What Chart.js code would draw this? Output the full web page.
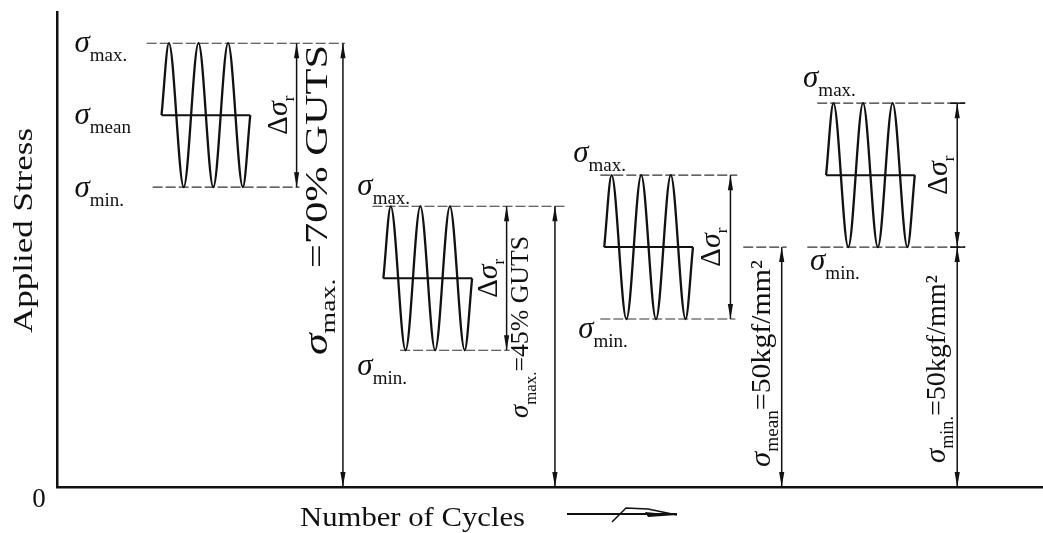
<!DOCTYPE html>
<html><head>
<meta charset="utf-8">
<script src="https://cdn.jsdelivr.net/npm/chart.js"></script>
<style>
  body { margin: 0; background: #fff; }
  #wrap { width: 1043px; height: 533px; }
</style>
</head>
<body>
<div id="wrap"><canvas id="chart" width="1043" height="533"></canvas></div>
<script>
// four loading blocks (stress in kgf/mm2, cycles in arbitrary units)
const blockStart = [10.6, 33.1, 55.5, 78.0];
const stressMax  = [92.5, 58.5, 65, 80];
const stressMean = [77.5, 43.5, 50, 65];
const stressMin  = [62.5, 28.5, 35, 50];

// one block = three cycles: mean start, peaks / troughs, mean end
const waveOffset = [0, 0.75, 2.25, 3.75, 5.25, 6.75, 8.25, 9];
const waveLevel  = ['mean', 'max', 'min', 'max', 'min', 'max', 'min', 'mean'];

// the quantity held constant in each block
const rangeSub   = ['max.', 'max.', 'mean', 'min.'];
const rangeText  = [' =70% GUTS', '=45% GUTS', '=50kgf/mm\u00b2', '=50kgf/mm\u00b2'];
const rangeFrom  = ['max', 'max', 'mean', 'min'];

// annotation layout (cycle units)
const deltaX  = [24.3, 45.6, 68.3, 91.3];
const rangeX  = [29.0, 50.5, 73.5, 91.3];
const extMax  = [[9.1, 29.2], [32.0, 51.5], [55.1, 69.0], [77.1, 92.1]];
const extMin  = [[9.7, 24.6], [34.8, 45.9], [55.1, 68.8], [76.1, 92.1]];
const extMean = [null, null, [69.6, 74.0], null];

const SERIF = "'Liberation Serif', 'Times New Roman', serif";
const INK = '#111';

function level(i, name) {
  return name === 'max' ? stressMax[i] : name === 'min' ? stressMin[i] : stressMean[i];
}

const datasets = [];
blockStart.forEach((x0, i) => {
  datasets.push({
    data: waveOffset.map((o, k) => ({ x: x0 + o, y: level(i, waveLevel[k]) })),
    borderColor: INK, borderWidth: 2.3, pointRadius: 0,
    cubicInterpolationMode: 'monotone'
  });
  datasets.push({
    data: [{ x: x0, y: stressMean[i] }, { x: x0 + 9, y: stressMean[i] }],
    borderColor: INK, borderWidth: 2, pointRadius: 0
  });
  const ext = [[extMax[i], stressMax[i]], [extMin[i], stressMin[i]], [extMean[i], stressMean[i]]];
  ext.forEach(([span, y]) => {
    if (!span) return;
    datasets.push({
      data: [{ x: span[0], y: y }, { x: span[1], y: y }],
      borderColor: '#333', borderWidth: 1.1, borderDash: [10, 3], pointRadius: 0
    });
  });
});

// text drawn piece by piece, optionally stretched to a length
function drawParts(ctx, parts, x, y, rot, len) {
  let w = 0;
  parts.forEach(p => { ctx.font = p.font; p.w = ctx.measureText(p.t).width; w += p.w; });
  const s = len ? len / w : 1;
  ctx.save();
  ctx.translate(x, y);
  if (rot) ctx.rotate(rot);
  ctx.scale(s, 1);
  let cx = 0;
  parts.forEach(p => { ctx.font = p.font; ctx.fillText(p.t, cx, p.dy || 0); cx += p.w; });
  ctx.restore();
}

function arrowHead(ctx, x, y, dir) {
  // dir = -1 tip points up, +1 tip points down
  ctx.beginPath();
  ctx.moveTo(x, y);
  ctx.lineTo(x - 2.6, y - dir * 15);
  ctx.lineTo(x + 2.6, y - dir * 15);
  ctx.closePath();
  ctx.fill();
}

function dimLine(ctx, x, yTop, yBot) {
  ctx.beginPath();
  ctx.moveTo(x, yTop);
  ctx.lineTo(x, yBot);
  ctx.stroke();
  arrowHead(ctx, x, yTop, -1);
  arrowHead(ctx, x, yBot, 1);
}

// sigma label offsets from block start (px) and level (px)
const sigmaPos = [
  { max: [-87, 9], mean: [-87, 9], min: [-87, 10] },
  { max: [-26, -11], min: [-26, 25] },
  { max: [-31, -13], min: [-26, 19] },
  { max: [-23, -16], min: [-16, 23] }
];
// baseline offset from dimension line, bottom above axis, length, font sizes
const rangePos = [[-16, 132, 310, 32, 21], [-27, 69, 182, 26, 17], [-12, 20, 207, 28, 18], [-12, 24, 188, 28, 18]];

const annotate = {
  id: 'annotate',
  afterDatasetsDraw(chart) {
    const { ctx, scales: { x, y }, chartArea } = chart;
    ctx.save();
    ctx.fillStyle = INK;
    ctx.strokeStyle = INK;
    ctx.lineWidth = 1.5;
    ctx.textBaseline = 'alphabetic';

    blockStart.forEach((x0, i) => {
      const px0 = x.getPixelForValue(x0);
      // horizontal sigma labels
      Object.entries(sigmaPos[i]).forEach(([name, off]) => {
        const sub = name === 'mean' ? 'mean' : name + '.';
        drawParts(ctx, [
          { t: '\u03c3', font: `italic 31px ${SERIF}` },
          { t: sub, font: `19px ${SERIF}`, dy: 9 }
        ], px0 + off[0], y.getPixelForValue(level(i, name)) + off[1]);
      });

      // delta sigma_r dimension
      const dx = x.getPixelForValue(deltaX[i]);
      const yMax = y.getPixelForValue(stressMax[i]);
      const yMin = y.getPixelForValue(stressMin[i]);
      dimLine(ctx, dx, yMax, yMin);
      const dParts = [
        { t: '\u0394', font: `29px ${SERIF}` },
        { t: '\u03c3', font: `italic 30px ${SERIF}` },
        { t: 'r', font: `17px ${SERIF}`, dy: 7 }
      ];
      let dw = 0;
      dParts.forEach(p => { ctx.font = p.font; dw += ctx.measureText(p.t).width; });
      drawParts(ctx, dParts, dx - 10, y.getPixelForValue(stressMean[i]) + dw / 2, -Math.PI / 2);

      // constant quantity dimension down to zero
      const rx = x.getPixelForValue(rangeX[i]);
      const yFrom = y.getPixelForValue(level(i, rangeFrom[i]));
      dimLine(ctx, rx, yFrom, y.getPixelForValue(0));
      const rp = rangePos[i];
      drawParts(ctx, [
        { t: '\u03c3', font: `italic ${rp[3] + 1}px ${SERIF}` },
        { t: rangeSub[i], font: `${rp[4]}px ${SERIF}`, dy: 8 },
        { t: rangeText[i], font: `${rp[3]}px ${SERIF}` }
      ], rx + rp[0], chartArea.bottom - rp[1], -Math.PI / 2, rp[2]);
    });

    // block 4 crossbars
    const bx = x.getPixelForValue(deltaX[3]);
    [stressMax[3], stressMin[3]].forEach(v => {
      const py = y.getPixelForValue(v);
      ctx.beginPath();
      ctx.moveTo(bx - 7, py);
      ctx.lineTo(bx + 8, py);
      ctx.stroke();
    });

    // axis texts
    ctx.font = `27px ${SERIF}`;
    ctx.textAlign = 'center';
    ctx.fillText('0', chartArea.left - 18, chartArea.bottom + 20);
    ctx.textAlign = 'left';
    drawParts(ctx, [{ t: 'Applied Stress', font: `27px ${SERIF}` }], 32, 333, -Math.PI / 2, 205);
    drawParts(ctx, [{ t: 'Number of Cycles', font: `27px ${SERIF}` }], 300, 526, 0, 225);

    // the little arrow after the x title
    ctx.lineWidth = 2;
    ctx.beginPath();
    ctx.moveTo(567, 514);
    ctx.lineTo(677, 514);
    ctx.stroke();
    ctx.lineWidth = 1.5;
    ctx.beginPath();
    ctx.moveTo(612, 522);
    ctx.lineTo(626, 508);
    ctx.lineTo(648, 509);
    ctx.lineTo(677, 515);
    ctx.stroke();
    ctx.beginPath();
    ctx.moveTo(645, 512);
    ctx.lineTo(677, 515);
    ctx.lineTo(648, 517);
    ctx.closePath();
    ctx.fill();
    ctx.restore();
  }
};

new Chart(document.getElementById('chart'), {
  type: 'line',
  data: { datasets },
  options: {
    responsive: false,
    animation: false,
    layout: { padding: { left: 49, right: 0, top: 12, bottom: 38 } },
    plugins: { legend: { display: false }, tooltip: { enabled: false } },
    scales: {
      x: {
        type: 'linear', min: 0, max: 100,
        grid: { display: false },
        ticks: { display: false },
        border: { display: true, color: INK, width: 2.5 }
      },
      y: {
        type: 'linear', min: 0, max: 99,
        grid: { display: false },
        ticks: { display: false },
        border: { display: true, color: INK, width: 2.5 }
      }
    }
  },
  plugins: [annotate]
});
</script>
</body></html>
